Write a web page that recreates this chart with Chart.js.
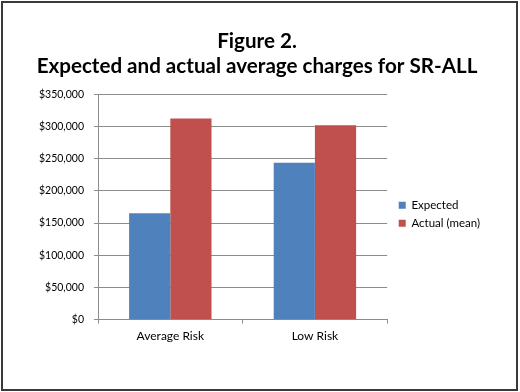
<!DOCTYPE html>
<html>
<head>
<meta charset="utf-8">
<script src="https://cdn.jsdelivr.net/npm/chart.js@4/dist/chart.umd.min.js"></script>
<style>
  html, body { margin: 0; padding: 0; background: #fff; }
  #wrap { width: 520px; height: 392px; }
</style>
</head>
<body>
<div id="wrap"><canvas id="chargesChart" width="520" height="392"></canvas></div>
<script>
const categories = ['Average Risk', 'Low Risk'];
const expectedCharges = [165500, 244000];
const actualCharges = [312500, 302000];
const titleLines = ['Figure 2.', 'Expected and actual average charges for SR-ALL'];

// white background + dark frame round the picture
const framePlugin = {
  id: 'frame',
  beforeDraw(chart) {
    const c = chart.ctx;
    c.save();
    c.fillStyle = '#fff';
    c.fillRect(0, 0, chart.width, chart.height);
    c.restore();
  },
  afterDraw(chart) {
    const c = chart.ctx;
    c.save();
    c.strokeStyle = '#3a3a3a';
    c.lineWidth = 2;
    c.strokeRect(2, 2, chart.width - 5, chart.height - 4);
    c.restore();
  }
};

// nudge the legend a bit away from the plot
const legendGap = {
  id: 'legendGap',
  afterLayout(chart) {
    chart.legend.left += 5;
    chart.legend.right += 5;
  }
};

function createBarChart() {
  const ctx = document.getElementById('chargesChart').getContext('2d');
  new Chart(ctx, {
    type: 'bar',
    data: {
      labels: categories,
      datasets: [{
        label: 'Expected',
        data: expectedCharges,
        backgroundColor: '#4F81BD'
      }, {
        label: 'Actual (mean)',
        data: actualCharges,
        backgroundColor: '#C0504D'
      }]
    },
    options: {
      responsive: false,
      animation: false,
      datasets: {
        bar: { categoryPercentage: 0.57, barPercentage: 1.0 }
      },
      layout: { padding: { left: 29, right: 35, top: 0, bottom: 44 } },
      plugins: {
        title: {
          display: true,
          text: titleLines,
          color: '#000',
          font: { family: 'Lato', size: 20.6, weight: 'bold', lineHeight: 1.2 },
          padding: { top: 29, bottom: 16 }
        },
        legend: {
          position: 'right',
          fullSize: false,
          title: { display: true, text: '', font: { size: 2 }, padding: { top: 0, bottom: 12 } },
          labels: {
            boxWidth: 7,
            boxHeight: 7,
            color: '#000',
            font: { family: 'Lato', size: 11.5 },
            padding: 6.5
          }
        },
        tooltip: { enabled: false }
      },
      scales: {
        y: {
          min: 0,
          max: 350000,
          ticks: {
            stepSize: 50000,
            color: '#000',
            font: { family: 'Lato', size: 10.5 },
            padding: 10,
            callback: v => '$' + v.toLocaleString('en-US')
          },
          grid: { color: '#8c8c8c', tickLength: 4 },
          border: { color: '#8c8c8c' }
        },
        x: {
          ticks: {
            color: '#000',
            font: { family: 'Lato', size: 12 },
            padding: 5
          },
          grid: { drawOnChartArea: false, tickLength: 4, color: '#8c8c8c' },
          border: { color: '#8c8c8c' }
        }
      }
    },
    plugins: [framePlugin, legendGap]
  });
}

createBarChart();
</script>
</body>
</html>
